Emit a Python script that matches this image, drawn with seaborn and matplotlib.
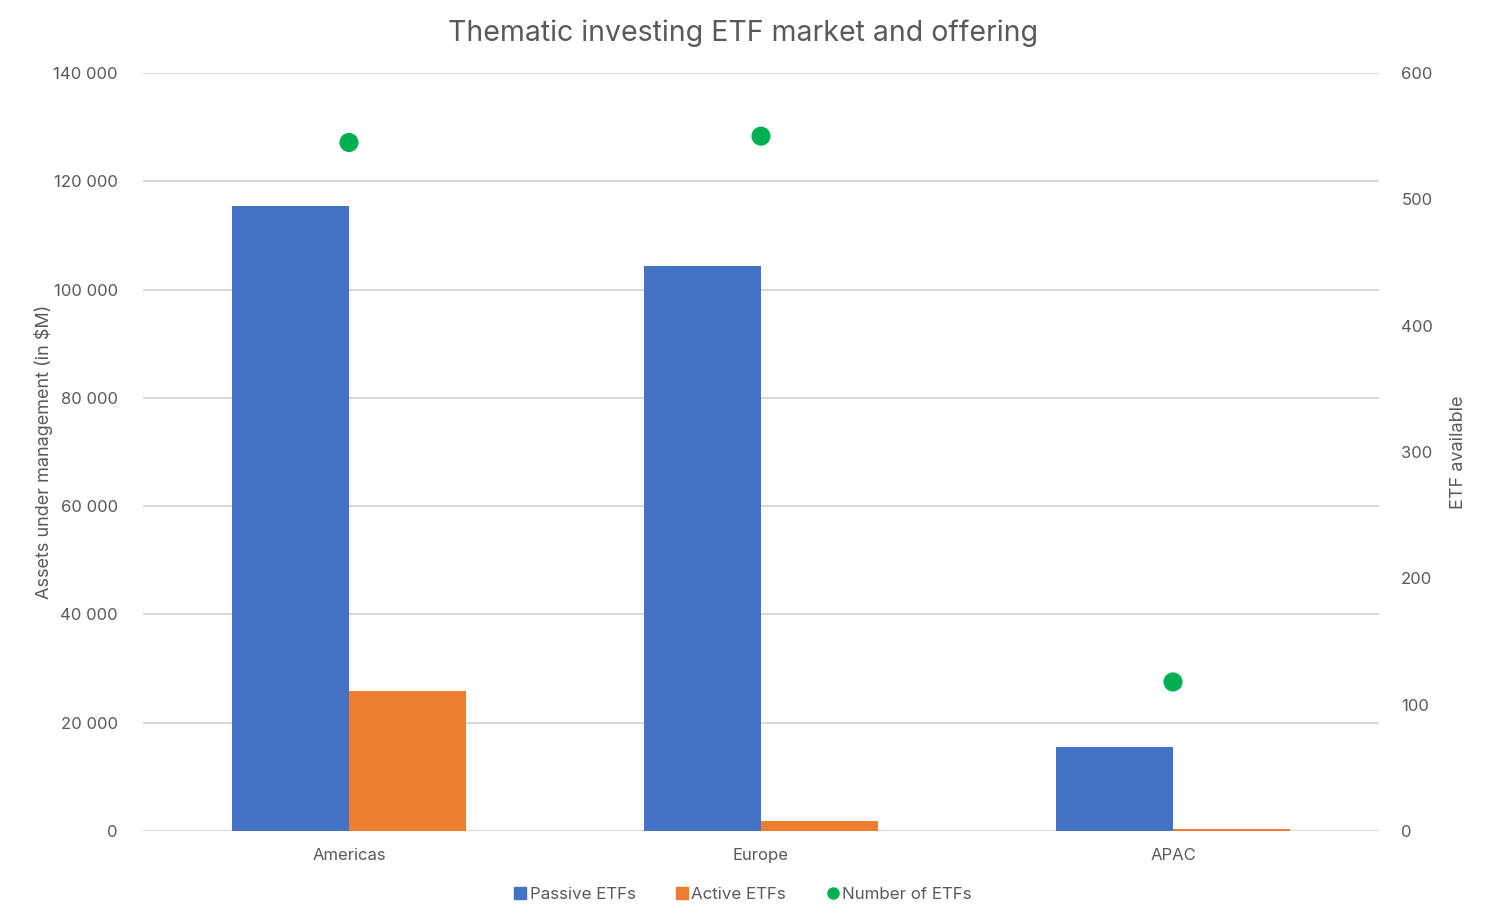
import pandas as pd
import seaborn as sns
import matplotlib.pyplot as plt
from matplotlib.ticker import FuncFormatter, MultipleLocator
from matplotlib.patches import Patch
from matplotlib.lines import Line2D

# data
regions = ['Americas', 'Europe', 'APAC']
passive_aum = [115500, 104300, 15500]
active_aum = [25800, 1900, 300]
n_etfs = [545, 550, 118]

df_bars = pd.DataFrame({
    'region': regions * 2,
    'type': ['Passive ETFs'] * 3 + ['Active ETFs'] * 3,
    'aum': passive_aum + active_aum,
})
df_count = pd.DataFrame({'region': regions, 'n': n_etfs})

sns.set_theme(style='white')
plt.rcParams['font.family'] = ['Inter', 'DejaVu Sans']
txt = '#595959'
grid = '#D9D9D9'
colors = {'Passive ETFs': '#4472C4', 'Active ETFs': '#ED7D31'}

fig = plt.figure(figsize=(14.86, 9.24), dpi=100)
ax = fig.add_axes([0.0962, 0.1006, 0.8318, 0.8204])

sns.barplot(data=df_bars, x='region', y='aum', hue='type', palette=colors,
            width=0.57, gap=0, saturation=1, linewidth=0, ax=ax,
            legend=False, zorder=2)
ax.set_ylim(0, 140000)
ax.yaxis.set_major_locator(MultipleLocator(20000))
ax.yaxis.set_major_formatter(FuncFormatter(lambda v, p: f'{int(v):,}'.replace(',', ' ')))
ax.grid(axis='y', color=grid, lw=1.5, zorder=0)
ax.set_axisbelow(True)
ax.set_xlabel('')
ax.set_ylabel('Assets under management (in $M)', fontsize=13, color=txt, labelpad=0)

ax2 = ax.twinx()
sns.scatterplot(data=df_count, x='region', y='n', color='#00B050', s=190,
                edgecolor='none', ax=ax2, zorder=3)
ax2.set_ylim(0, 600)
ax2.yaxis.set_major_locator(MultipleLocator(100))
ax2.set_ylabel('ETF available', fontsize=13, color=txt, labelpad=12)
ax.set_xlim(-0.5, 2.5)
ax2.set_xlim(-0.5, 2.5)

for a in (ax, ax2):
    for s in a.spines.values():
        s.set_visible(False)
    a.tick_params(axis='both', length=0, labelsize=12, labelcolor=txt, pad=12)
ax.tick_params(axis='y', pad=18)
ax2.tick_params(axis='y', pad=16)

fig.suptitle('Thematic investing ETF market and offering', fontsize=20.5,
             color=txt, x=0.5, y=0.964, va='center')

handles = [
    Patch(color=colors['Passive ETFs'], label='Passive ETFs'),
    Patch(color=colors['Active ETFs'], label='Active ETFs'),
    Line2D([], [], marker='o', ls='', color='#00B050', markersize=8, label='Number of ETFs'),
]
fig.legend(handles=handles, loc='center', bbox_to_anchor=(0.5, 0.032), ncol=3,
           frameon=False, fontsize=12.2, labelcolor=txt, handlelength=0.7,
           handleheight=0.7, handletextpad=0.2, columnspacing=2.4)

fig.savefig('out.png', dpi=100)
